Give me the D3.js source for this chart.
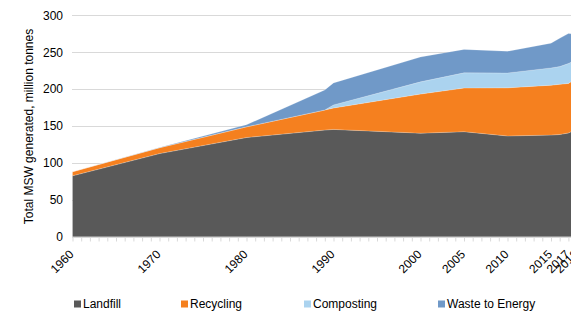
<!DOCTYPE html>
<html><head><meta charset="utf-8">
<script src="https://cdn.jsdelivr.net/npm/d3@7"></script>
<style>
html,body{margin:0;padding:0;background:#fff;}
svg{display:block;font-family:"Liberation Sans",Arial,sans-serif;}
</style></head>
<body><svg id="c" width="571" height="313"></svg>
<script>
// Data (million tonnes)
const years      = [1960, 1970, 1980, 1989, 1990, 2000, 2005, 2010, 2015, 2016, 2017, 2018];
const landfill   = [82.5, 112.6, 134.4, 144.5, 145.4, 140.3, 142.3, 136.5, 137.7, 138.5, 140.5, 146.1];
const recycling  = [5.6, 8.0, 14.5, 27.2, 29.0, 53.0, 59.2, 65.2, 67.6, 68.0, 67.2, 69.0];
const composting = [0, 0, 0, 0, 4.2, 16.5, 20.6, 20.2, 23.4, 24.0, 27.0, 25.0];
const wasteToEnergy = [0, 0.4, 2.7, 27.1, 29.8, 33.7, 31.7, 29.3, 33.5, 38.3, 40.5, 34.6];
const seriesNames = ["Landfill", "Recycling", "Composting", "Waste to Energy"];
const tickYears = [1960, 1970, 1980, 1990, 2000, 2005, 2010, 2015, 2017, 2018];
const yTicks = [0, 50, 100, 150, 200, 250, 300];
const yLabel = "Total MSW generated, million tonnes";

const colors = ["#595959", "#F5801F", "#ABD3EF", "#7099C8"];
const seriesArrays = [landfill, recycling, composting, wasteToEnergy];
const rows = years.map((yr, i) => {
  const r = {year: yr};
  seriesNames.forEach((n, k) => r[n] = seriesArrays[k][i]);
  return r;
});

const svg = d3.select("#c");
const x = d3.scaleLinear().domain([1960, 2018]).range([72.5, 72.5 + 58 * 8.7]);
const y = d3.scaleLinear().domain([0, 300]).range([236.7, 15.3]);
const plotRight = 571;

// gridlines
svg.append("g").selectAll("line").data(yTicks.filter(d => d > 0)).join("line")
  .attr("x1", 72).attr("x2", plotRight)
  .attr("y1", d => Math.round(y(d)) + 0.5).attr("y2", d => Math.round(y(d)) + 0.5)
  .attr("stroke", "#d9d9d9").attr("stroke-width", 1);

// stacked areas
const stack = d3.stack().keys(seriesNames);
const layers = stack(rows);
const area = d3.area()
  .x(d => x(d.data.year))
  .y0(d => y(d[0]))
  .y1(d => y(d[1]));
svg.append("g").selectAll("path").data(layers).join("path")
  .attr("d", area)
  .attr("fill", (d, i) => colors[i])
  .attr("stroke", "#ffffff").attr("stroke-opacity", 0.35).attr("stroke-width", 0.5);

// y axis labels
const yAxis = d3.axisLeft(y).tickValues(yTicks).tickSize(0).tickPadding(0);
const gy = svg.append("g").attr("transform", "translate(63,0)").call(yAxis);
gy.select(".domain").remove();
gy.selectAll("text").attr("font-size", 12).attr("fill", "#000")
  .attr("font-family", "'Liberation Sans',Arial,sans-serif");

// x axis line and minor ticks
const gx = svg.append("g").attr("transform", "translate(0,237.5)");
gx.append("line").attr("x1", 72).attr("x2", plotRight).attr("y1", 0).attr("y2", 0)
  .attr("stroke", "#d9d9d9");
const minor = d3.axisBottom(x).tickValues(d3.range(1960, 2019)).tickSize(4).tickFormat("");
const gm = gx.append("g").call(minor);
gm.select(".domain").remove();
gm.selectAll("line").attr("stroke", "#d9d9d9");

// x tick labels rotated
const lab = d3.axisBottom(x).tickValues(tickYears).tickSize(0).tickFormat(d3.format("d"));
const gl = svg.append("g").attr("transform", "translate(0,255)").call(lab);
gl.select(".domain").remove();
gl.selectAll("text")
  .attr("font-size", 12).attr("fill", "#000")
  .attr("font-family", "'Liberation Sans',Arial,sans-serif")
  .attr("text-anchor", "end").attr("y", 0).attr("dy", 0)
  .attr("transform", "translate(1.5,0) rotate(-45)");

// y axis title
svg.append("text")
  .attr("transform", "translate(33,126.5) rotate(-90)")
  .attr("text-anchor", "middle")
  .attr("font-size", 12).attr("fill", "#000")
  .text(yLabel);

// legend
const legendX = [74, 181, 304, 438];
const lg = svg.append("g").selectAll("g").data(seriesNames).join("g")
  .attr("transform", (d, i) => `translate(${legendX[i]},300.5)`);
lg.append("rect").attr("width", 7).attr("height", 7).attr("fill", (d, i) => colors[i]);
lg.append("text").attr("x", 9).attr("y", 7.5).attr("font-size", 12).attr("fill", "#000").text(d => d);
</script>
</body></html>
